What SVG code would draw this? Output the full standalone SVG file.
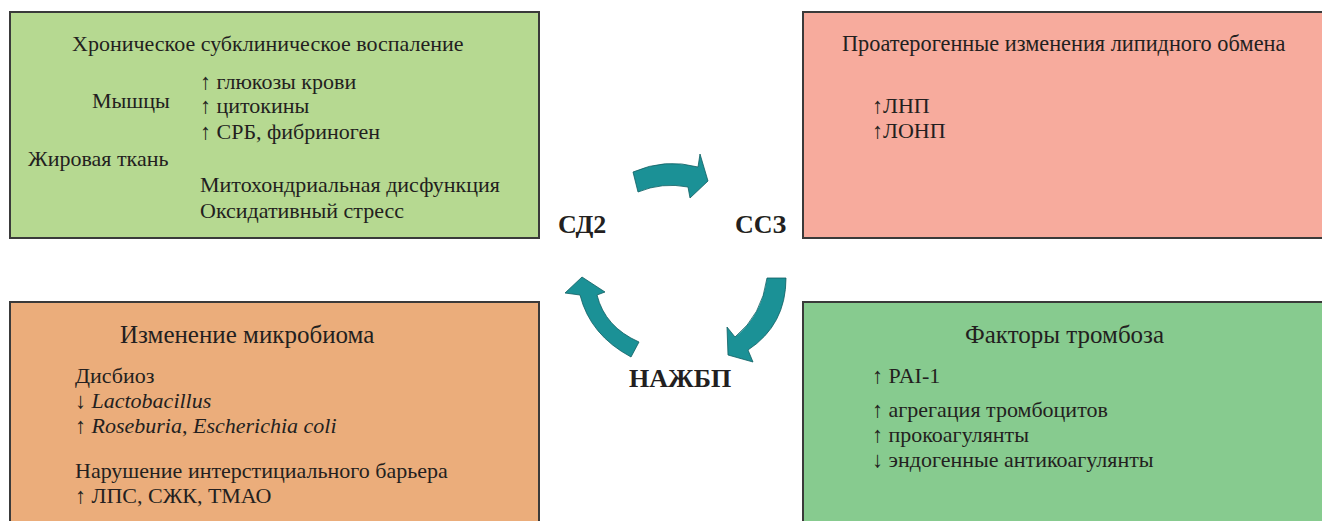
<svg xmlns="http://www.w3.org/2000/svg" width="1322" height="521" viewBox="0 0 1322 521">
<style>
.box{stroke:#3a3a3a;stroke-width:2}
.t{font-family:"Liberation Serif","Times New Roman",serif;font-size:22px;fill:#231f20}
.h2{font-size:25px}
.i{font-style:italic}
.lbl{font-family:"Liberation Serif","Times New Roman",serif;font-size:26px;font-weight:bold;fill:#231f20}
.arr{fill:#1b9196;stroke:#0f5e62;stroke-width:0.8;stroke-linejoin:miter}
</style>
<rect width="1322" height="521" fill="#ffffff"/>
<g id="box-inflammation">
<rect class="box" x="10" y="12" width="529" height="226" fill="#b6d991"/>
<text class="t" x="72" y="51">Хроническое субклиническое воспаление</text>
<text class="t" x="200" y="89">↑ глюкозы крови</text>
<text class="t" x="92" y="108">Мышцы</text>
<text class="t" x="200" y="113">↑ цитокины</text>
<text class="t" x="200" y="139">↑ СРБ, фибриноген</text>
<text class="t" x="28" y="166">Жировая ткань</text>
<text class="t" x="200" y="192">Митохондриальная дисфункция</text>
<text class="t" x="200" y="218">Оксидативный стресс</text>
</g>
<g id="box-lipid">
<rect class="box" x="803" y="12" width="522" height="226" fill="#f7ab9d"/>
<text class="t" x="842" y="51" style="font-size:22.3px">Проатерогенные изменения липидного обмена</text>
<text class="t" x="872" y="113">↑ЛНП</text>
<text class="t" x="872" y="138">↑ЛОНП</text>
</g>
<g id="box-microbiome">
<rect class="box" x="10" y="302" width="529" height="225" fill="#ebad7b"/>
<text class="t h2" x="120" y="343">Изменение микробиома</text>
<text class="t" x="75" y="383">Дисбиоз</text>
<text class="t" x="75" y="408">↓ <tspan class="i">Lactobacillus</tspan></text>
<text class="t" x="75" y="433">↑ <tspan class="i">Roseburia</tspan>, <tspan class="i">Escherichia coli</tspan></text>
<text class="t" x="75" y="478">Нарушение интерстициального барьера</text>
<text class="t" x="75" y="503">↑ ЛПС, СЖК, ТМАО</text>
</g>
<g id="box-thrombosis">
<rect class="box" x="803" y="302" width="522" height="225" fill="#87cb8f"/>
<text class="t h2" x="965" y="343">Факторы тромбоза</text>
<text class="t" x="872" y="383">↑ PAI-1</text>
<text class="t" x="872" y="417">↑ агрегация тромбоцитов</text>
<text class="t" x="872" y="442">↑ прокоагулянты</text>
<text class="t" x="872" y="467">↓ эндогенные антикоагулянты</text>
</g>
<g id="node-sd2"><text class="lbl" x="558" y="233">СД2</text></g>
<g id="node-ssz"><text class="lbl" x="735" y="233">ССЗ</text></g>
<g id="node-nazhbp"><text class="lbl" x="629" y="387">НАЖБП</text></g>
<g id="connectors">
<path class="arr" d="M633,172 Q665,158 698,167 L700,154 L708,181 L690,198 L688,187 Q662,182 638,192 Z"/>
<path class="arr" d="M767,278 L786,278 Q786,325 748,350 L753,362 L728,355 L727,327 L735,337 Q762,315 767,278 Z"/>
<path class="arr" d="M631,357 Q590,335 580,295 L565,293 L582,277 L605,292 L597,295 Q605,327 639,342 Z"/>
</g>
</svg>
